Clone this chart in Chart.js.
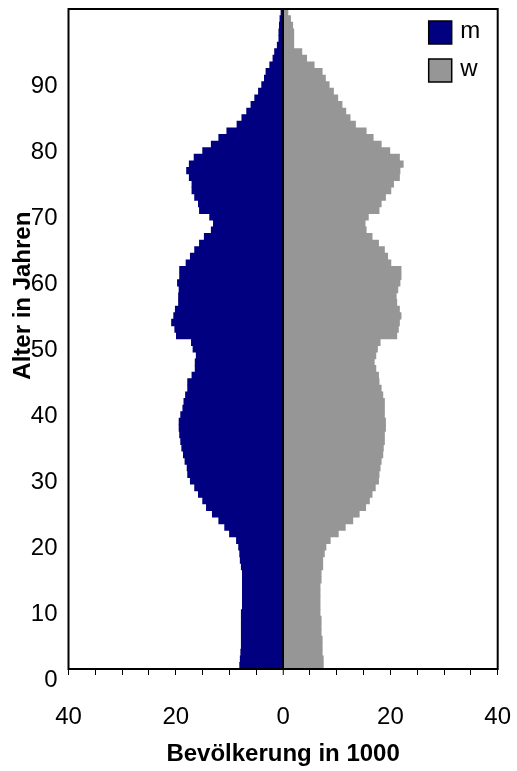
<!DOCTYPE html>
<html>
<head>
<meta charset="utf-8">
<script src="https://cdn.jsdelivr.net/npm/chart.js@4.4.0/dist/chart.umd.min.js"></script>
<style>
  html, body { margin: 0; padding: 0; background: #fff; overflow: hidden; }
  #wrap { width: 517px; height: 771px; }
  canvas { display: block; }
</style>
</head>
<body>
<div id="wrap"><canvas id="pyramide"></canvas></div>
<script>
// Alter 0..99
const alter = Array.from({length: 100}, (_, i) => String(i));
const alterTicks = ['0', '10', '20', '30', '40', '50', '60', '70', '80', '90'];
const bevTicks = [-40, -20, 0, 20, 40];

// Bevölkerung in 1000, je Altersjahr
const maenner = [
  8.1, 8.0, 7.9, 7.8, 7.8, 7.8, 7.8, 7.8, 7.8, 7.6,
  7.6, 7.6, 7.6, 7.6, 7.6, 7.8, 8.0, 8.1, 8.3, 8.7,
  10.0, 10.9, 12.0, 13.2, 14.3, 15.0, 15.8, 16.5, 17.3, 17.8,
  17.9, 18.3, 18.6, 18.9, 19.1, 19.3, 19.4, 19.4, 19.1, 18.7,
  18.5, 18.2, 17.8, 17.8, 17.0, 16.4, 16.4, 16.2, 16.8, 17.1,
  19.9, 20.2, 20.8, 20.4, 20.1, 19.5, 19.5, 19.4, 19.7, 19.3,
  19.3, 18.1, 17.3, 16.5, 15.6, 14.7, 13.4, 13.0, 13.7, 15.6,
  15.8, 16.5, 17.0, 17.0, 17.5, 18.0, 17.5, 16.6, 15.0, 13.4,
  12.0, 10.5, 8.6, 7.7, 6.8, 6.0, 5.3, 4.6, 4.0, 3.5,
  3.2, 2.5, 1.9, 1.6, 1.1, 0.8, 0.8, 0.7, 0.6, 0.4
];
const frauen = [
  7.5, 7.5, 7.3, 7.3, 7.3, 7.1, 7.1, 7.1, 6.9, 6.9,
  6.9, 6.9, 6.9, 7.1, 7.1, 7.4, 7.4, 7.7, 8.0, 8.8,
  10.3, 11.6, 13.0, 14.2, 15.4, 16.1, 16.6, 17.2, 17.8, 17.9,
  18.1, 18.3, 18.6, 18.7, 18.9, 18.9, 19.1, 19.1, 18.9, 18.9,
  18.9, 18.6, 18.3, 17.9, 17.8, 17.3, 17.0, 17.3, 17.6, 18.1,
  21.2, 21.5, 21.7, 22.0, 21.7, 21.2, 21.1, 21.4, 21.8, 22.0,
  22.0, 20.1, 19.5, 18.9, 17.8, 16.6, 15.5, 15.3, 15.9, 17.9,
  18.3, 19.1, 20.1, 20.6, 21.7, 21.8, 22.4, 21.7, 19.9, 18.3,
  16.8, 15.5, 13.5, 12.5, 11.7, 11.0, 10.2, 9.4, 8.6, 7.9,
  7.3, 5.8, 4.4, 3.5, 2.0, 2.0, 2.0, 1.8, 1.4, 0.9
];

Chart.defaults.font.family = '"Liberation Sans", Arial, sans-serif';
Chart.defaults.color = '#000';

// Rahmen um die Zeichenfläche + Legende oben rechts
const rahmen = {
  id: 'rahmen',
  afterDraw(chart) {
    const {ctx, chartArea: a} = chart;
    ctx.save();
    ctx.strokeStyle = '#000';
    ctx.lineWidth = 2;
    ctx.strokeRect(a.left, a.top, a.right - a.left, a.bottom - a.top);
    ctx.font = '24px "Liberation Sans", Arial, sans-serif';
    ctx.textBaseline = 'alphabetic';
    chart.data.datasets.forEach((ds, i) => {
      const x = a.right - 69, y = a.top + 12 + i * 38;
      ctx.fillStyle = ds.backgroundColor;
      ctx.fillRect(x, y, 23, 23);
      ctx.lineWidth = 1.5;
      ctx.strokeRect(x, y, 23, 23);
      ctx.fillStyle = '#000';
      ctx.fillText(ds.label, x + 31.5, y + 16.5);
    });
    ctx.restore();
  }
};

// feste Achsenmaße, keine Zusatzränder für überstehende Beschriftungen
const festX = s => { s.height = 102; s.paddingLeft = 0; s.paddingRight = 0; };
const festY = s => { s.width = 68.5; s.paddingTop = 0; s.paddingBottom = 0; };

new Chart(document.getElementById('pyramide'), {
  type: 'bar',
  data: {
    labels: alter,
    datasets: [
      {label: 'm', data: maenner.map(v => -v), backgroundColor: '#000080'},
      {label: 'w', data: frauen, backgroundColor: '#969696'}
    ]
  },
  options: {
    indexAxis: 'y',
    responsive: true,
    maintainAspectRatio: false,
    animation: false,
    layout: {padding: {top: 9, right: 19.3, bottom: 0, left: 0}},
    datasets: {bar: {barPercentage: 1, categoryPercentage: 1, borderWidth: 0}},
    plugins: {legend: {display: false}, tooltip: {enabled: false}},
    scales: {
      x: {
        type: 'linear',
        stacked: true,
        min: -40,
        max: 40,
        z: 1,
        afterFit: festX,
        border: {display: false},
        grid: {
          color: c => (c.tick && c.tick.value === 0) ? '#000' : 'rgba(0,0,0,0)',
          lineWidth: c => (c.tick && c.tick.value === 0) ? 2.5 : 1,
          tickColor: '#000',
          tickWidth: 1,
          tickLength: 6
        },
        ticks: {
          stepSize: 5,
          autoSkip: false,
          maxRotation: 0,
          padding: 28,
          font: {size: 24},
          callback: v => bevTicks.includes(v) ? String(Math.abs(v)) : ''
        },
        title: {
          display: true,
          text: 'Bevölkerung in 1000',
          font: {size: 24, weight: 'bold'},
          padding: {top: 0, bottom: 2}
        }
      },
      y: {
        type: 'category',
        stacked: true,
        reverse: true,
        afterFit: festY,
        border: {display: false},
        grid: {display: false, drawTicks: false},
        ticks: {
          autoSkip: false,
          padding: 11,
          labelOffset: 14.5,
          font: {size: 24},
          callback: (v, i) => alterTicks.includes(alter[i]) ? alter[i] : null
        },
        title: {
          display: true,
          text: '             Alter in Jahren',
          font: {size: 24, weight: 'bold'},
          padding: {top: 8.6, bottom: 0}
        }
      }
    }
  },
  plugins: [rahmen]
});
</script>
</body>
</html>
